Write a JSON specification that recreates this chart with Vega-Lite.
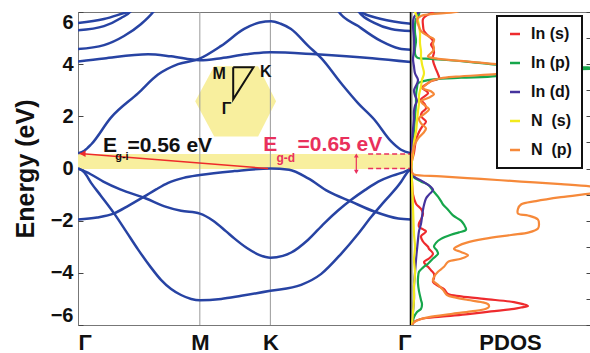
{
"$schema":"https://vega.github.io/schema/vega-lite/v6.json",
"background":"white",
"padding":{"left":12,"top":10,"right":0,"bottom":0},
"spacing":0,
"bounds":"flush",
"config":{
 "view":{"stroke":"#777","strokeWidth":1},
 "font":"Liberation Sans",
 "axis":{"labelFont":"Liberation Sans","titleFont":"Liberation Sans","labelColor":"#111","titleColor":"#111","tickColor":"#444"},
 "legend":{"strokeWidth":2}
},
"datasets":{
 "bands":[
  {"b":"v1","k":0,"E":0},{"b":"v1","k":0.03,"E":-0.15},{"b":"v1","k":0.062,"E":-0.55},{"b":"v1","k":0.109,"E":-1.05},{"b":"v1","k":0.171,"E":-1.72},{"b":"v1","k":0.227,"E":-2.4},{"b":"v1","k":0.284,"E":-3.1},{"b":"v1","k":0.346,"E":-3.8},{"b":"v1","k":0.393,"E":-4.27},{"b":"v1","k":0.441,"E":-4.62},{"b":"v1","k":0.488,"E":-4.85},{"b":"v1","k":0.536,"E":-5.0},{"b":"v1","k":0.577,"E":-5.05},{"b":"v1","k":0.678,"E":-5.0},{"b":"v1","k":0.773,"E":-4.88},{"b":"v1","k":0.911,"E":-4.69},{"b":"v1","k":1.057,"E":-4.46},{"b":"v1","k":1.152,"E":-4.04},{"b":"v1","k":1.246,"E":-3.27},{"b":"v1","k":1.327,"E":-2.5},{"b":"v1","k":1.389,"E":-1.85},{"b":"v1","k":1.45,"E":-1.27},{"b":"v1","k":1.531,"E":-0.5},{"b":"v1","k":1.555,"E":-0.2},{"b":"v1","k":1.577,"E":0},
  {"b":"v2","k":0,"E":0},{"b":"v2","k":0.06,"E":-0.22},{"b":"v2","k":0.12,"E":-0.5},{"b":"v2","k":0.2,"E":-0.8},{"b":"v2","k":0.322,"E":-1.15},{"b":"v2","k":0.41,"E":-1.45},{"b":"v2","k":0.488,"E":-1.62},{"b":"v2","k":0.577,"E":-1.73},{"b":"v2","k":0.64,"E":-2.0},{"b":"v2","k":0.7,"E":-2.4},{"b":"v2","k":0.74,"E":-2.68},{"b":"v2","k":0.8,"E":-3.05},{"b":"v2","k":0.86,"E":-3.32},{"b":"v2","k":0.911,"E":-3.42},{"b":"v2","k":0.97,"E":-3.35},{"b":"v2","k":1.01,"E":-3.22},{"b":"v2","k":1.09,"E":-2.73},{"b":"v2","k":1.166,"E":-2.1},{"b":"v2","k":1.23,"E":-1.62},{"b":"v2","k":1.294,"E":-1.2},{"b":"v2","k":1.36,"E":-0.82},{"b":"v2","k":1.422,"E":-0.5},{"b":"v2","k":1.48,"E":-0.3},{"b":"v2","k":1.531,"E":-0.17},{"b":"v2","k":1.577,"E":0},
  {"b":"v3","k":0,"E":-1.96},{"b":"v3","k":0.09,"E":-1.88},{"b":"v3","k":0.171,"E":-1.72},{"b":"v3","k":0.24,"E":-1.42},{"b":"v3","k":0.313,"E":-1.08},{"b":"v3","k":0.37,"E":-0.8},{"b":"v3","k":0.427,"E":-0.55},{"b":"v3","k":0.5,"E":-0.36},{"b":"v3","k":0.577,"E":-0.25},{"b":"v3","k":0.74,"E":-0.1},{"b":"v3","k":0.911,"E":0},{"b":"v3","k":1.0,"E":-0.05},{"b":"v3","k":1.09,"E":-0.38},{"b":"v3","k":1.185,"E":-0.88},{"b":"v3","k":1.294,"E":-1.27},{"b":"v3","k":1.403,"E":-1.65},{"b":"v3","k":1.517,"E":-1.92},{"b":"v3","k":1.577,"E":-1.96},
  {"b":"c1","k":0,"E":0.58},{"b":"c1","k":0.03,"E":0.68},{"b":"c1","k":0.062,"E":0.92},{"b":"c1","k":0.156,"E":1.95},{"b":"c1","k":0.284,"E":2.88},{"b":"c1","k":0.379,"E":3.6},{"b":"c1","k":0.474,"E":4.0},{"b":"c1","k":0.573,"E":4.2},{"b":"c1","k":0.678,"E":4.7},{"b":"c1","k":0.787,"E":5.35},{"b":"c1","k":0.86,"E":5.6},{"b":"c1","k":0.915,"E":5.65},{"b":"c1","k":0.96,"E":5.55},{"b":"c1","k":1.009,"E":5.35},{"b":"c1","k":1.09,"E":4.7},{"b":"c1","k":1.152,"E":4.23},{"b":"c1","k":1.246,"E":3.27},{"b":"c1","k":1.327,"E":2.5},{"b":"c1","k":1.403,"E":1.88},{"b":"c1","k":1.483,"E":1.04},{"b":"c1","k":1.53,"E":0.72},{"b":"c1","k":1.577,"E":0.58},
  {"b":"c2","k":0,"E":4.1},{"b":"c2","k":0.123,"E":4.22},{"b":"c2","k":0.332,"E":4.38},{"b":"c2","k":0.441,"E":4.3},{"b":"c2","k":0.577,"E":4.15},{"b":"c2","k":0.678,"E":4.23},{"b":"c2","k":0.796,"E":4.38},{"b":"c2","k":0.911,"E":4.46},{"b":"c2","k":1.128,"E":4.38},{"b":"c2","k":1.393,"E":4.23},{"b":"c2","k":1.577,"E":4.08},
  {"b":"c3a","k":0,"E":4.58},{"b":"c3a","k":0.123,"E":4.73},{"b":"c3a","k":0.218,"E":5.08},{"b":"c3a","k":0.299,"E":5.54},{"b":"c3a","k":0.356,"E":6.0},{"b":"c3a","k":0.37,"E":6.15},
  {"b":"c4a","k":0,"E":5.3},{"b":"c4a","k":0.123,"E":5.46},{"b":"c4a","k":0.204,"E":5.77},{"b":"c4a","k":0.251,"E":6.04},{"b":"c4a","k":0.265,"E":6.2},
  {"b":"c5a","k":0,"E":5.58},{"b":"c5a","k":0.123,"E":5.73},{"b":"c5a","k":0.218,"E":5.96},{"b":"c5a","k":0.251,"E":6.04},{"b":"c5a","k":0.265,"E":6.12},
  {"b":"c3b","k":1.215,"E":6.3},{"b":"c3b","k":1.232,"E":6.04},{"b":"c3b","k":1.327,"E":5.46},{"b":"c3b","k":1.436,"E":4.88},{"b":"c3b","k":1.521,"E":4.6},{"b":"c3b","k":1.577,"E":4.55},
  {"b":"c4b","k":1.315,"E":6.3},{"b":"c4b","k":1.327,"E":6.04},{"b":"c4b","k":1.403,"E":5.58},{"b":"c4b","k":1.483,"E":5.35},{"b":"c4b","k":1.577,"E":5.27},
  {"b":"c5b","k":1.32,"E":6.2},{"b":"c5b","k":1.332,"E":6.04},{"b":"c5b","k":1.436,"E":5.73},{"b":"c5b","k":1.577,"E":5.55}
 ],
 "pdos":[
  {"o":"In (s)","E":6.1,"d":0.48},{"o":"In (s)","E":6.0,"d":0.44},{"o":"In (s)","E":5.85,"d":0.3},{"o":"In (s)","E":5.73,"d":0.24},{"o":"In (s)","E":5.5,"d":0.24},{"o":"In (s)","E":5.27,"d":0.26},{"o":"In (s)","E":5.1,"d":0.34},{"o":"In (s)","E":4.88,"d":0.44},{"o":"In (s)","E":4.75,"d":0.4},{"o":"In (s)","E":4.62,"d":0.44},{"o":"In (s)","E":4.45,"d":0.46},{"o":"In (s)","E":4.3,"d":0.44},{"o":"In (s)","E":4.15,"d":0.44},{"o":"In (s)","E":4.0,"d":0.46},{"o":"In (s)","E":3.8,"d":0.5},{"o":"In (s)","E":3.62,"d":0.54},{"o":"In (s)","E":3.46,"d":0.56},{"o":"In (s)","E":3.35,"d":0.4},{"o":"In (s)","E":3.27,"d":0.34},{"o":"In (s)","E":3.1,"d":0.22},{"o":"In (s)","E":2.95,"d":0.32},{"o":"In (s)","E":2.88,"d":0.34},{"o":"In (s)","E":2.75,"d":0.26},{"o":"In (s)","E":2.65,"d":0.2},{"o":"In (s)","E":2.45,"d":0.28},{"o":"In (s)","E":2.3,"d":0.3},{"o":"In (s)","E":2.15,"d":0.22},{"o":"In (s)","E":2.0,"d":0.2},{"o":"In (s)","E":1.8,"d":0.3},{"o":"In (s)","E":1.6,"d":0.22},{"o":"In (s)","E":1.4,"d":0.16},{"o":"In (s)","E":1.1,"d":0.1},{"o":"In (s)","E":0.6,"d":0.06},{"o":"In (s)","E":0.3,"d":0.02},{"o":"In (s)","E":0.0,"d":0.0},{"o":"In (s)","E":-0.5,"d":0.02},{"o":"In (s)","E":-1.0,"d":0.04},{"o":"In (s)","E":-1.35,"d":0.1},{"o":"In (s)","E":-1.55,"d":0.2},{"o":"In (s)","E":-1.73,"d":0.24},{"o":"In (s)","E":-1.95,"d":0.2},{"o":"In (s)","E":-2.1,"d":0.16},{"o":"In (s)","E":-2.23,"d":0.16},{"o":"In (s)","E":-2.35,"d":0.26},{"o":"In (s)","E":-2.42,"d":0.3},{"o":"In (s)","E":-2.6,"d":0.2},{"o":"In (s)","E":-2.8,"d":0.24},{"o":"In (s)","E":-3.0,"d":0.34},{"o":"In (s)","E":-3.08,"d":0.36},{"o":"In (s)","E":-3.27,"d":0.44},{"o":"In (s)","E":-3.45,"d":0.36},{"o":"In (s)","E":-3.58,"d":0.26},{"o":"In (s)","E":-3.7,"d":0.3},{"o":"In (s)","E":-3.77,"d":0.34},{"o":"In (s)","E":-3.9,"d":0.4},{"o":"In (s)","E":-4.04,"d":0.46},{"o":"In (s)","E":-4.2,"d":0.46},{"o":"In (s)","E":-4.35,"d":0.44},{"o":"In (s)","E":-4.5,"d":0.54},{"o":"In (s)","E":-4.62,"d":0.66},{"o":"In (s)","E":-4.81,"d":0.74},{"o":"In (s)","E":-4.9,"d":1.0},{"o":"In (s)","E":-5.0,"d":1.46},{"o":"In (s)","E":-5.12,"d":2.06},{"o":"In (s)","E":-5.2,"d":2.24},{"o":"In (s)","E":-5.27,"d":2.34},{"o":"In (s)","E":-5.33,"d":2.2},{"o":"In (s)","E":-5.38,"d":2.06},{"o":"In (s)","E":-5.48,"d":1.6},{"o":"In (s)","E":-5.58,"d":1.14},{"o":"In (s)","E":-5.68,"d":0.6},{"o":"In (s)","E":-5.77,"d":0.2},{"o":"In (s)","E":-5.88,"d":0.06},{"o":"In (s)","E":-6.0,"d":0.02},
  {"o":"In (p)","E":6.1,"d":0.16},{"o":"In (p)","E":5.9,"d":0.16},{"o":"In (p)","E":5.73,"d":0.1},{"o":"In (p)","E":5.5,"d":0.08},{"o":"In (p)","E":5.2,"d":0.08},{"o":"In (p)","E":4.9,"d":0.1},{"o":"In (p)","E":4.6,"d":0.08},{"o":"In (p)","E":4.4,"d":0.08},{"o":"In (p)","E":4.3,"d":0.1},{"o":"In (p)","E":4.24,"d":0.14},{"o":"In (p)","E":4.2,"d":0.4},{"o":"In (p)","E":4.1,"d":1.1},{"o":"In (p)","E":3.98,"d":1.7},{"o":"In (p)","E":3.9,"d":2.6},{"o":"In (p)","E":3.85,"d":4.2},{"o":"In (p)","E":3.78,"d":3.0},{"o":"In (p)","E":3.65,"d":2.0},{"o":"In (p)","E":3.54,"d":1.7},{"o":"In (p)","E":3.48,"d":1.0},{"o":"In (p)","E":3.42,"d":0.46},{"o":"In (p)","E":3.35,"d":0.25},{"o":"In (p)","E":3.27,"d":0.14},{"o":"In (p)","E":3.1,"d":0.12},{"o":"In (p)","E":2.8,"d":0.1},{"o":"In (p)","E":2.5,"d":0.1},{"o":"In (p)","E":2.0,"d":0.08},{"o":"In (p)","E":1.5,"d":0.06},{"o":"In (p)","E":1.0,"d":0.04},{"o":"In (p)","E":0.5,"d":0.02},{"o":"In (p)","E":0.0,"d":0.0},{"o":"In (p)","E":-0.3,"d":0.04},{"o":"In (p)","E":-0.5,"d":0.2},{"o":"In (p)","E":-0.62,"d":0.34},{"o":"In (p)","E":-0.85,"d":0.44},{"o":"In (p)","E":-1.08,"d":0.54},{"o":"In (p)","E":-1.25,"d":0.6},{"o":"In (p)","E":-1.38,"d":0.64},{"o":"In (p)","E":-1.58,"d":0.74},{"o":"In (p)","E":-1.8,"d":0.84},{"o":"In (p)","E":-2.0,"d":1.0},{"o":"In (p)","E":-2.15,"d":1.06},{"o":"In (p)","E":-2.35,"d":1.1},{"o":"In (p)","E":-2.45,"d":0.96},{"o":"In (p)","E":-2.54,"d":0.8},{"o":"In (p)","E":-2.7,"d":0.6},{"o":"In (p)","E":-2.85,"d":0.5},{"o":"In (p)","E":-3.0,"d":0.46},{"o":"In (p)","E":-3.15,"d":0.52},{"o":"In (p)","E":-3.27,"d":0.54},{"o":"In (p)","E":-3.45,"d":0.44},{"o":"In (p)","E":-3.65,"d":0.34},{"o":"In (p)","E":-3.8,"d":0.24},{"o":"In (p)","E":-3.96,"d":0.16},{"o":"In (p)","E":-4.2,"d":0.14},{"o":"In (p)","E":-4.42,"d":0.14},{"o":"In (p)","E":-4.7,"d":0.16},{"o":"In (p)","E":-5.04,"d":0.2},{"o":"In (p)","E":-5.2,"d":0.22},{"o":"In (p)","E":-5.38,"d":0.2},{"o":"In (p)","E":-5.5,"d":0.12},{"o":"In (p)","E":-5.7,"d":0.06},{"o":"In (p)","E":-6.0,"d":0.02},
  {"o":"In (d)","E":6.1,"d":0.2},{"o":"In (d)","E":6.0,"d":0.16},{"o":"In (d)","E":5.8,"d":0.06},{"o":"In (d)","E":5.5,"d":0.04},{"o":"In (d)","E":5.0,"d":0.06},{"o":"In (d)","E":4.5,"d":0.06},{"o":"In (d)","E":4.2,"d":0.04},{"o":"In (d)","E":3.9,"d":0.06},{"o":"In (d)","E":3.65,"d":0.08},{"o":"In (d)","E":3.4,"d":0.14},{"o":"In (d)","E":3.25,"d":0.12},{"o":"In (d)","E":3.0,"d":0.06},{"o":"In (d)","E":2.8,"d":0.08},{"o":"In (d)","E":2.6,"d":0.12},{"o":"In (d)","E":2.4,"d":0.08},{"o":"In (d)","E":2.2,"d":0.06},{"o":"In (d)","E":1.9,"d":0.06},{"o":"In (d)","E":1.5,"d":0.04},{"o":"In (d)","E":1.0,"d":0.02},{"o":"In (d)","E":0.0,"d":0.0},{"o":"In (d)","E":-0.31,"d":0.06},{"o":"In (d)","E":-0.5,"d":0.24},{"o":"In (d)","E":-0.81,"d":0.44},{"o":"In (d)","E":-1.0,"d":0.36},{"o":"In (d)","E":-1.15,"d":0.3},{"o":"In (d)","E":-1.4,"d":0.26},{"o":"In (d)","E":-1.58,"d":0.24},{"o":"In (d)","E":-1.85,"d":0.22},{"o":"In (d)","E":-2.12,"d":0.2},{"o":"In (d)","E":-2.4,"d":0.16},{"o":"In (d)","E":-2.73,"d":0.14},{"o":"In (d)","E":-3.1,"d":0.12},{"o":"In (d)","E":-3.5,"d":0.1},{"o":"In (d)","E":-4.0,"d":0.08},{"o":"In (d)","E":-4.5,"d":0.06},{"o":"In (d)","E":-5.0,"d":0.06},{"o":"In (d)","E":-5.5,"d":0.04},{"o":"In (d)","E":-6.0,"d":0.02},
  {"o":"N\u00a0 (s)","E":6.1,"d":0.06},{"o":"N\u00a0 (s)","E":5.8,"d":0.12},{"o":"N\u00a0 (s)","E":5.5,"d":0.16},{"o":"N\u00a0 (s)","E":5.2,"d":0.18},{"o":"N\u00a0 (s)","E":4.8,"d":0.18},{"o":"N\u00a0 (s)","E":4.5,"d":0.2},{"o":"N\u00a0 (s)","E":4.3,"d":0.2},{"o":"N\u00a0 (s)","E":4.0,"d":0.22},{"o":"N\u00a0 (s)","E":3.65,"d":0.26},{"o":"N\u00a0 (s)","E":3.4,"d":0.22},{"o":"N\u00a0 (s)","E":3.15,"d":0.2},{"o":"N\u00a0 (s)","E":2.8,"d":0.16},{"o":"N\u00a0 (s)","E":2.5,"d":0.16},{"o":"N\u00a0 (s)","E":2.2,"d":0.14},{"o":"N\u00a0 (s)","E":1.8,"d":0.12},{"o":"N\u00a0 (s)","E":1.4,"d":0.1},{"o":"N\u00a0 (s)","E":1.0,"d":0.06},{"o":"N\u00a0 (s)","E":0.56,"d":0.04},{"o":"N\u00a0 (s)","E":0.3,"d":0.02},{"o":"N\u00a0 (s)","E":0.0,"d":0.01},{"o":"N\u00a0 (s)","E":-0.5,"d":0.02},{"o":"N\u00a0 (s)","E":-1.5,"d":0.04},{"o":"N\u00a0 (s)","E":-2.5,"d":0.06},{"o":"N\u00a0 (s)","E":-3.0,"d":0.08},{"o":"N\u00a0 (s)","E":-3.5,"d":0.06},{"o":"N\u00a0 (s)","E":-4.0,"d":0.08},{"o":"N\u00a0 (s)","E":-4.5,"d":0.06},{"o":"N\u00a0 (s)","E":-5.0,"d":0.06},{"o":"N\u00a0 (s)","E":-5.5,"d":0.04},{"o":"N\u00a0 (s)","E":-6.0,"d":0.02},
  {"o":"N\u00a0 (p)","E":6.1,"d":1.04},{"o":"N\u00a0 (p)","E":6.0,"d":0.9},{"o":"N\u00a0 (p)","E":5.85,"d":0.2},{"o":"N\u00a0 (p)","E":5.7,"d":0.12},{"o":"N\u00a0 (p)","E":5.54,"d":0.14},{"o":"N\u00a0 (p)","E":5.27,"d":0.2},{"o":"N\u00a0 (p)","E":5.08,"d":0.34},{"o":"N\u00a0 (p)","E":4.96,"d":0.46},{"o":"N\u00a0 (p)","E":4.77,"d":0.44},{"o":"N\u00a0 (p)","E":4.62,"d":0.46},{"o":"N\u00a0 (p)","E":4.5,"d":0.44},{"o":"N\u00a0 (p)","E":4.3,"d":0.34},{"o":"N\u00a0 (p)","E":4.22,"d":0.5},{"o":"N\u00a0 (p)","E":4.19,"d":0.6},{"o":"N\u00a0 (p)","E":4.1,"d":1.15},{"o":"N\u00a0 (p)","E":4.0,"d":1.7},{"o":"N\u00a0 (p)","E":3.92,"d":2.3},{"o":"N\u00a0 (p)","E":3.85,"d":3.3},{"o":"N\u00a0 (p)","E":3.75,"d":2.6},{"o":"N\u00a0 (p)","E":3.62,"d":1.7},{"o":"N\u00a0 (p)","E":3.52,"d":0.9},{"o":"N\u00a0 (p)","E":3.46,"d":0.6},{"o":"N\u00a0 (p)","E":3.38,"d":0.44},{"o":"N\u00a0 (p)","E":3.27,"d":0.34},{"o":"N\u00a0 (p)","E":3.08,"d":0.24},{"o":"N\u00a0 (p)","E":2.96,"d":0.4},{"o":"N\u00a0 (p)","E":2.85,"d":0.46},{"o":"N\u00a0 (p)","E":2.7,"d":0.34},{"o":"N\u00a0 (p)","E":2.58,"d":0.2},{"o":"N\u00a0 (p)","E":2.38,"d":0.3},{"o":"N\u00a0 (p)","E":2.27,"d":0.36},{"o":"N\u00a0 (p)","E":2.08,"d":0.26},{"o":"N\u00a0 (p)","E":1.92,"d":0.16},{"o":"N\u00a0 (p)","E":1.73,"d":0.2},{"o":"N\u00a0 (p)","E":1.54,"d":0.3},{"o":"N\u00a0 (p)","E":1.35,"d":0.24},{"o":"N\u00a0 (p)","E":1.15,"d":0.14},{"o":"N\u00a0 (p)","E":0.85,"d":0.06},{"o":"N\u00a0 (p)","E":0.5,"d":0.02},{"o":"N\u00a0 (p)","E":0.0,"d":0.0},{"o":"N\u00a0 (p)","E":-0.15,"d":0.02},{"o":"N\u00a0 (p)","E":-0.23,"d":0.06},{"o":"N\u00a0 (p)","E":-0.3,"d":0.6},{"o":"N\u00a0 (p)","E":-0.4,"d":1.4},{"o":"N\u00a0 (p)","E":-0.5,"d":2.2},{"o":"N\u00a0 (p)","E":-0.6,"d":3.0},{"o":"N\u00a0 (p)","E":-0.69,"d":3.6},{"o":"N\u00a0 (p)","E":-0.8,"d":4.0},{"o":"N\u00a0 (p)","E":-0.9,"d":3.8},{"o":"N\u00a0 (p)","E":-0.96,"d":3.6},{"o":"N\u00a0 (p)","E":-1.1,"d":3.0},{"o":"N\u00a0 (p)","E":-1.25,"d":2.5},{"o":"N\u00a0 (p)","E":-1.38,"d":2.2},{"o":"N\u00a0 (p)","E":-1.55,"d":2.14},{"o":"N\u00a0 (p)","E":-1.73,"d":2.14},{"o":"N\u00a0 (p)","E":-1.8,"d":2.34},{"o":"N\u00a0 (p)","E":-1.96,"d":2.54},{"o":"N\u00a0 (p)","E":-2.15,"d":2.56},{"o":"N\u00a0 (p)","E":-2.3,"d":2.54},{"o":"N\u00a0 (p)","E":-2.45,"d":2.36},{"o":"N\u00a0 (p)","E":-2.55,"d":2.0},{"o":"N\u00a0 (p)","E":-2.7,"d":1.46},{"o":"N\u00a0 (p)","E":-2.85,"d":1.1},{"o":"N\u00a0 (p)","E":-2.95,"d":0.96},{"o":"N\u00a0 (p)","E":-3.08,"d":0.86},{"o":"N\u00a0 (p)","E":-3.2,"d":1.0},{"o":"N\u00a0 (p)","E":-3.33,"d":1.14},{"o":"N\u00a0 (p)","E":-3.46,"d":1.0},{"o":"N\u00a0 (p)","E":-3.58,"d":0.74},{"o":"N\u00a0 (p)","E":-3.77,"d":0.66},{"o":"N\u00a0 (p)","E":-3.96,"d":0.54},{"o":"N\u00a0 (p)","E":-4.15,"d":0.46},{"o":"N\u00a0 (p)","E":-4.3,"d":0.44},{"o":"N\u00a0 (p)","E":-4.46,"d":0.54},{"o":"N\u00a0 (p)","E":-4.65,"d":0.64},{"o":"N\u00a0 (p)","E":-4.85,"d":0.72},{"o":"N\u00a0 (p)","E":-4.95,"d":0.9},{"o":"N\u00a0 (p)","E":-5.04,"d":1.14},{"o":"N\u00a0 (p)","E":-5.12,"d":1.4},{"o":"N\u00a0 (p)","E":-5.2,"d":1.54},{"o":"N\u00a0 (p)","E":-5.3,"d":1.56},{"o":"N\u00a0 (p)","E":-5.38,"d":1.5},{"o":"N\u00a0 (p)","E":-5.48,"d":1.2},{"o":"N\u00a0 (p)","E":-5.58,"d":0.8},{"o":"N\u00a0 (p)","E":-5.7,"d":0.36},{"o":"N\u00a0 (p)","E":-5.8,"d":0.16},{"o":"N\u00a0 (p)","E":-5.9,"d":0.06},{"o":"N\u00a0 (p)","E":-6.0,"d":0.02}
 ]
},
"hconcat":[
 {
  "width":333,"height":313,
  "layer":[
   {"data":{"values":[{"k":0,"k2":1.577,"E":-0.02,"E2":0.56}]},
    "mark":{"type":"rect","color":"#f8ef9e"},
    "encoding":{"x":{"field":"k","type":"quantitative"},"x2":{"field":"k2"},"y":{"field":"E","type":"quantitative"},"y2":{"field":"E2"}}},
   {"data":{"values":[{"k":0.555,"E":2.58,"E2":2.58},{"k":0.645,"E":3.92,"E2":1.23},{"k":0.853,"E":3.92,"E2":1.23},{"k":0.938,"E":2.58,"E2":2.58}]},
    "mark":{"type":"area","color":"#f8ef9e","orient":"vertical"},
    "encoding":{"x":{"field":"k","type":"quantitative"},"y":{"field":"E","type":"quantitative"},"y2":{"field":"E2"}}},
   {"data":{"values":[{"k":0.577},{"k":0.911}]},
    "mark":{"type":"rule","color":"#9a9a9a","strokeWidth":1},
    "encoding":{"x":{"field":"k","type":"quantitative"}}},
   {"data":{"name":"bands"},
    "mark":{"type":"line","color":"#2743a3","strokeWidth":2.5,"interpolate":"monotone","clip":true},
    "encoding":{
     "x":{"field":"k","type":"quantitative","scale":{"domain":[0,1.577],"nice":false,"zero":false},
      "axis":{"title":null,"values":[0,0.577,0.911,1.577],"labelExpr":"datum.value < 0.3 ? 'Γ' : datum.value < 0.7 ? 'M' : datum.value < 1.2 ? 'K' : 'Γ'","ticks":false,"domain":false,"grid":false,"labelFlush":true,"labelOverlap":false,"labelFontSize":22,"labelFontWeight":"bold","labelPadding":7}},
     "y":{"field":"E","type":"quantitative","scale":{"domain":[-6,6],"nice":false,"zero":false},
      "axis":{"title":"Energy (eV)","values":[-6,-4,-2,0,2,4,6],"tickSize":-5,"labelPadding":10,"labelFontSize":20,"labelFontWeight":"bold","labelFlush":true,"titleFontSize":25,"titleFontWeight":"bold","titlePadding":12,"domain":false,"grid":false}},
     "detail":{"field":"b"}}},
   {"data":{"values":[{"i":0,"k":0.735,"E":3.88},{"i":1,"k":0.831,"E":3.88},{"i":2,"k":0.735,"E":2.65},{"i":3,"k":0.735,"E":3.88}]},
    "mark":{"type":"line","color":"#111","strokeWidth":2},
    "encoding":{"x":{"field":"k","type":"quantitative"},"y":{"field":"E","type":"quantitative"},"order":{"field":"i"}}},
   {"data":{"values":[{"k":0.008,"E":0.575},{"k":0.9,"E":0.0}]},
    "mark":{"type":"line","color":"#ee2a2a","strokeWidth":1.5},
    "encoding":{"x":{"field":"k","type":"quantitative"},"y":{"field":"E","type":"quantitative"}}},
   {"data":{"values":[{"k":0.022,"E":0.57}]},
    "mark":{"type":"point","shape":"triangle-left","filled":true,"color":"#ee2a2a","size":45,"opacity":1},
    "encoding":{"x":{"field":"k","type":"quantitative"},"y":{"field":"E","type":"quantitative"}}},
   {"data":{"values":[{"k":1.374,"k2":1.577,"E":0.56},{"k":1.374,"k2":1.577,"E":0.0}]},
    "mark":{"type":"rule","color":"#e9305c","strokeWidth":1.5,"strokeDash":[5,3]},
    "encoding":{"x":{"field":"k","type":"quantitative"},"x2":{"field":"k2"},"y":{"field":"E","type":"quantitative"}}},
   {"data":{"values":[{"k":1.318,"E":-0.14,"E2":0.51}]},
    "mark":{"type":"rule","color":"#e9305c","strokeWidth":1.2},
    "encoding":{"x":{"field":"k","type":"quantitative"},"y":{"field":"E","type":"quantitative"},"y2":{"field":"E2"}}},
   {"data":{"values":[{"k":1.318,"E":0.5}]},
    "mark":{"type":"point","shape":"triangle-up","filled":true,"color":"#e9305c","size":22,"opacity":1},
    "encoding":{"x":{"field":"k","type":"quantitative"},"y":{"field":"E","type":"quantitative"}}},
   {"data":{"values":[{"k":1.318,"E":-0.13}]},
    "mark":{"type":"point","shape":"triangle-down","filled":true,"color":"#e9305c","size":22,"opacity":1},
    "encoding":{"x":{"field":"k","type":"quantitative"},"y":{"field":"E","type":"quantitative"}}},
   {"data":{"values":[{"t":"E","k":0.118,"E":0.85},{"t":"=0.56 eV","k":0.234,"E":0.85}]},
    "mark":{"type":"text","font":"Liberation Sans","fontWeight":"bold","fontSize":21,"align":"left","baseline":"middle","color":"#111"},
    "encoding":{"x":{"field":"k","type":"quantitative"},"y":{"field":"E","type":"quantitative"},"text":{"field":"t"}}},
   {"data":{"values":[{"t":"g-i","k":0.176,"E":0.43}]},
    "mark":{"type":"text","font":"Liberation Sans","fontWeight":"bold","fontSize":11,"align":"left","baseline":"middle","color":"#111"},
    "encoding":{"x":{"field":"k","type":"quantitative"},"y":{"field":"E","type":"quantitative"},"text":{"field":"t"}}},
   {"data":{"values":[{"t":"E","k":0.877,"E":0.92},{"t":"=0.65 eV","k":1.04,"E":0.92}]},
    "mark":{"type":"text","font":"Liberation Sans","fontWeight":"bold","fontSize":21,"align":"left","baseline":"middle","color":"#e9305c"},
    "encoding":{"x":{"field":"k","type":"quantitative"},"y":{"field":"E","type":"quantitative"},"text":{"field":"t"}}},
   {"data":{"values":[{"t":"g-d","k":0.94,"E":0.4}]},
    "mark":{"type":"text","font":"Liberation Sans","fontWeight":"bold","fontSize":12,"align":"left","baseline":"middle","color":"#e9305c"},
    "encoding":{"x":{"field":"k","type":"quantitative"},"y":{"field":"E","type":"quantitative"},"text":{"field":"t"}}},
   {"data":{"values":[{"t":"M","k":0.668,"E":3.63},{"t":"K","k":0.889,"E":3.69},{"t":"Γ","k":0.704,"E":2.27}]},
    "mark":{"type":"text","font":"Liberation Sans","fontWeight":"bold","fontSize":16,"align":"center","baseline":"middle","color":"#111"},
    "encoding":{"x":{"field":"k","type":"quantitative"},"y":{"field":"E","type":"quantitative"},"text":{"field":"t"}}},
   {"data":{"values":[{"k":1.577}]},
    "mark":{"type":"rule","color":"#000","strokeWidth":2.5},
    "encoding":{"x":{"field":"k","type":"quantitative"}}}
  ]
 },
 {
  "width":180,"height":313,
  "data":{"name":"pdos"},
  "mark":{"type":"line","strokeWidth":2.2,"interpolate":"catmull-rom","clip":true},
  "encoding":{
   "x":{"field":"d","type":"quantitative","scale":{"domain":[0,3.6],"nice":false,"zero":false},
    "axis":{"labels":false,"ticks":false,"domain":false,"grid":false,"title":"PDOS","titleFontSize":22,"titleFontWeight":"bold","titleX":99,"titleY":24,"titleBaseline":"alphabetic","titleAlign":"center"}},
   "y":{"field":"E","type":"quantitative","scale":{"domain":[-6,6],"nice":false,"zero":false},
    "axis":{"orient":"right","values":[-6,-5,-4,-3,-2,-1,0,1,2,3,4,5,6],"labels":false,"tickSize":-5,"domain":false,"grid":false,"title":null}},
   "color":{"field":"o","type":"nominal",
    "scale":{"domain":["In (s)","In (p)","In (d)","N\u00a0 (s)","N\u00a0 (p)"],"range":["#ee2b2e","#16a64b","#45339d","#f2ea1c","#f6893a"]},
    "legend":{"orient":"none","legendX":86,"legendY":4,"title":null,"symbolType":"stroke","symbolStrokeWidth":2.5,"symbolSize":100,"labelFont":"Liberation Sans","labelFontSize":16,"labelFontWeight":"bold","labelColor":"#111","labelOffset":8,"rowPadding":13,"padding":10,"fillColor":"white","strokeColor":"#111"}},
   "order":{"field":"E","type":"quantitative"}
  }
 }
],
"resolve":{"scale":{"x":"independent","y":"independent","color":"independent"},"legend":{"color":"independent"}}
}
